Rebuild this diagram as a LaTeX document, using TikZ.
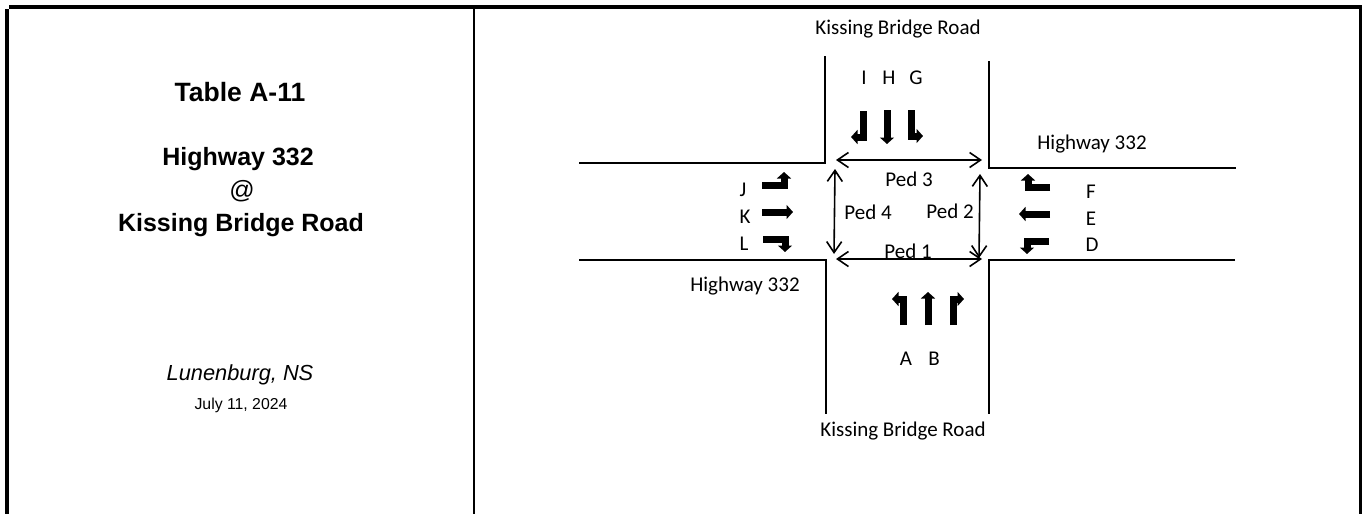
\documentclass[tikz,border=0pt]{standalone}
\usepackage{fontspec}
\setmainfont{Carlito}
\newfontfamily\arialFont{Liberation Sans}
\usetikzlibrary{arrows.meta}
\begin{document}
\begin{tikzpicture}[x=1pt, y=-1pt, line width=1.6pt]

		%図の大きさを固定
		\useasboundingbox (0, 0) rectangle (1362, 514);

		\tikzset{
			styleFrame/.style={ draw, line width=4pt },		%外枠
			styleRoad/.style={ draw, line width=2pt },		%道路の縁
			stylePed/.style={ draw, line width=1.6pt, 
				{Straight Barb[length=11pt, width=15pt]}-{Straight Barb[length=11pt, width=15pt]} },	%横断歩道
			styleLane/.style={ draw, line width=7pt, 
				-{Triangle[length=6.5pt, width=14pt]} },		%車線の矢印
			styleRoadText/.style={ font=\fontsize{21}{24}\selectfont, inner sep=0pt },
			styleTitle/.style={ font=\arialFont\bfseries\fontsize{25}{28}\selectfont, inner sep=0pt }
		};

		%枠と道路の端点
		\foreach \pointName/\pointX/\pointY in {
				fa/9/7, fb/1362/7, fc/7/9, fd/7/514, fe/1361/9, ff/1361/514,
				fg/474/9, fh/474/514,
				ra/825/56, rb/825/163, rc/579/163,
				rd/989/61, re/989/167.5, rf/1236/167.5,
				rg/579/260, rh/826/260, ri/826/414,
				rj/1235/260, rk/989/260, rl/989/414,
				pa/836/160, pb/982/160, pc/835/169, pd/834/254,
				pe/980/174, pf/979/258, pg/836/259, ph/982/259} {
			\coordinate (\pointName) at (\pointX, \pointY);
		}

		%枠を書く
		\foreach \startName/\endName in {fa/fb, fc/fd, fe/ff} {
			\draw [styleFrame] (\startName) -- (\endName);
		}
		\draw [styleRoad] (fg) -- (fh);

		%道路を書く
		\draw [styleRoad] (ra) -- (rb) -- (rc);
		\draw [styleRoad] (rd) -- (re) -- (rf);
		\draw [styleRoad] (rg) -- (rh) -- (ri);
		\draw [styleRoad] (rj) -- (rk) -- (rl);

		%横断歩道を書く
		\foreach \startName/\endName in {pa/pb, pc/pd, pe/pf, pg/ph} {
			\draw [stylePed] (\startName) -- (\endName);
		}

		%車線の矢印の端点
		\foreach \laneName/\startX/\startY/\endX/\endY in {
				I/863/111/851/137, H/887/110/887/144, G/911/110/923/136,
				J/762/185/784/172, K/762/212/793/212, L/763/239/785/252,
				F/1050/187/1028/174, E/1050/214/1019/214, D/1049/241/1027/254,
				A/903/325/892/299, B/928/325/928/292, C/953/325/964/299} {
			\coordinate (s\laneName) at (\startX, \startY);
			\coordinate (e\laneName) at (\endX, \endY);
		}

		%まっすぐ
		\foreach \laneName in {H, K, E, B} {
			\draw [styleLane] (s\laneName) -- (e\laneName);
		}
		%縦から横へ
		\foreach \laneName in {I, G, A, C} {
			\draw [styleLane] (s\laneName) |- (e\laneName);
		}
		%横から縦へ
		\foreach \laneName in {J, L, F, D} {
			\draw [styleLane] (s\laneName) -| (e\laneName);
		}

		%道路の文字
		\foreach \textName/\textX/\textY/\textBody in {
				ta/898/29/Kissing Bridge Road, tb/903/431.5/Kissing Bridge Road,
				tc/1092/144/Highway 332, td/745/286/Highway 332,
				pedC/909/179/Ped 3, pedD/868/212/Ped 4, pedB/950/211/Ped 2, pedA/908/251/Ped 1,
				lI/864/78/I, lH/889/78/H, lG/916/78/G,
				lJ/743/190/J, lK/745/217/K, lL/744/244/L,
				lF/1091/192/F, lE/1091/219/E, lD/1092/245/D,
				lA/906/359/A, lB/934/359/B} {
			\node [styleRoadText] (\textName) at (\textX, \textY) {\textBody};
		}

		%左側のタイトル
		\node [styleTitle, font=\arialFont\bfseries\fontsize{26.5}{30}\selectfont] (titleA) at (240, 92.5) {Table A-11};
		\foreach \textName/\textX/\textY/\textBody in {
				titleB/238/159/Highway 332, titleC/241/225.5/Kissing Bridge Road} {
			\node [styleTitle] (\textName) at (\textX, \textY) {\textBody};
		}
		\node [font=\arialFont\fontsize{25}{28}\selectfont, inner sep=0pt] (titleAt) at (242, 191) {@};
		\node [font=\arialFont\itshape\fontsize{21.8}{25}\selectfont, inner sep=0pt] (place) at (240, 375) {Lunenburg, NS};
		\node [font=\arialFont\fontsize{15.8}{18}\selectfont, inner sep=0pt] (date) at (241, 405.5) {July 11, 2024};

	\end{tikzpicture}
\end{document}
